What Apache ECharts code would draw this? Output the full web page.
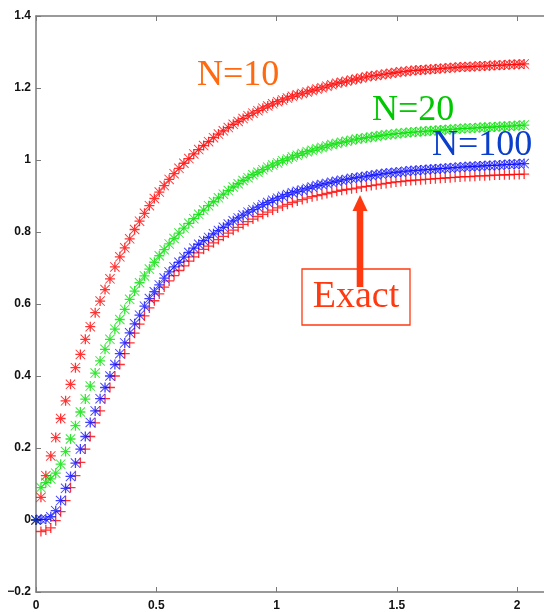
<!DOCTYPE html>
<html>
<head>
<meta charset="utf-8">
<script src="https://cdn.jsdelivr.net/npm/echarts@6/dist/echarts.min.js"></script>
<style>html,body{margin:0;padding:0;background:#fff;}#c{width:544px;height:612px;}</style>
</head>
<body>
<div id="c"></div>
<script>
// time grid (x)
const xs = [0,0.0205,0.041,0.0615,0.082,0.1025,0.123,0.1435,0.164,0.1845,
0.205,0.2255,0.246,0.2665,0.287,0.3075,0.328,0.3485,0.369,0.3895,
0.41,0.4305,0.451,0.4715,0.492,0.5125,0.533,0.5535,0.574,0.5945,
0.615,0.6355,0.656,0.6765,0.697,0.7175,0.738,0.7585,0.779,0.7995,
0.82,0.8405,0.861,0.8815,0.902,0.9225,0.943,0.9635,0.984,1.0045,
1.025,1.0455,1.066,1.0865,1.107,1.1275,1.148,1.1685,1.189,1.2095,
1.23,1.2505,1.271,1.2915,1.312,1.3325,1.353,1.3735,1.394,1.4145,
1.435,1.4555,1.476,1.4965,1.517,1.5375,1.558,1.5785,1.599,1.6195,
1.64,1.6605,1.681,1.7015,1.722,1.7425,1.763,1.7835,1.804,1.8245,
1.845,1.8655,1.886,1.9065,1.927,1.9475,1.968,1.9885,2.009,2.0295];

const n10 = [0,0.063,0.123,0.178,0.229,0.282,0.331,0.377,0.423,0.460,
0.502,0.537,0.576,0.608,0.640,0.670,0.703,0.731,0.756,0.781,
0.807,0.830,0.852,0.873,0.893,0.911,0.929,0.946,0.962,0.977,
0.991,1.004,1.017,1.029,1.040,1.051,1.062,1.072,1.081,1.090,
1.099,1.107,1.115,1.123,1.130,1.137,1.144,1.150,1.156,1.162,
1.167,1.172,1.177,1.181,1.185,1.189,1.193,1.197,1.201,1.205,
1.209,1.213,1.216,1.219,1.222,1.225,1.228,1.231,1.233,1.235,
1.237,1.239,1.241,1.243,1.245,1.246,1.248,1.249,1.250,1.251,
1.252,1.253,1.254,1.255,1.256,1.257,1.258,1.259,1.259,1.260,
1.261,1.261,1.262,1.263,1.263,1.264,1.265,1.265,1.266,1.267];

const n20 = [0,0.090,0.104,0.114,0.130,0.155,0.190,0.225,0.262,0.300,
0.336,0.372,0.408,0.442,0.474,0.502,0.530,0.557,0.585,0.613,
0.636,0.659,0.678,0.697,0.716,0.734,0.751,0.767,0.782,0.797,
0.811,0.824,0.837,0.849,0.861,0.873,0.884,0.895,0.905,0.915,
0.925,0.934,0.943,0.951,0.959,0.966,0.973,0.980,0.986,0.992,
0.998,1.003,1.008,1.013,1.018,1.023,1.027,1.031,1.035,1.039,
1.043,1.046,1.049,1.052,1.055,1.058,1.060,1.062,1.064,1.066,
1.068,1.070,1.071,1.073,1.074,1.076,1.077,1.078,1.079,1.080,
1.081,1.082,1.083,1.084,1.085,1.086,1.087,1.088,1.088,1.089,
1.090,1.091,1.091,1.092,1.093,1.094,1.094,1.095,1.096,1.097];

const n100 = [0,0.002,0.002,0.009,0.026,0.054,0.088,0.121,0.158,0.197,
0.232,0.271,0.303,0.337,0.368,0.400,0.432,0.462,0.492,0.520,
0.545,0.569,0.594,0.615,0.634,0.653,0.672,0.689,0.703,0.716,
0.730,0.743,0.755,0.766,0.776,0.785,0.795,0.804,0.813,0.822,
0.831,0.839,0.847,0.855,0.862,0.869,0.876,0.882,0.888,0.894,
0.899,0.904,0.909,0.913,0.917,0.921,0.925,0.929,0.932,0.935,
0.938,0.941,0.944,0.946,0.949,0.951,0.953,0.955,0.957,0.959,
0.961,0.963,0.964,0.966,0.967,0.969,0.970,0.971,0.972,0.973,
0.974,0.975,0.976,0.977,0.978,0.979,0.980,0.981,0.982,0.982,
0.983,0.984,0.985,0.985,0.986,0.987,0.988,0.988,0.989,0.990];

const exact = [0,-0.032,-0.028,-0.022,-0.002,0.023,0.054,0.090,0.123,0.160,
0.197,0.232,0.270,0.303,0.337,0.368,0.400,0.432,0.462,0.492,
0.519,0.544,0.567,0.589,0.609,0.628,0.647,0.664,0.679,0.693,
0.706,0.719,0.731,0.742,0.752,0.761,0.770,0.779,0.788,0.797,
0.805,0.813,0.821,0.829,0.836,0.843,0.849,0.855,0.861,0.867,
0.872,0.877,0.882,0.886,0.890,0.894,0.898,0.901,0.904,0.907,
0.910,0.913,0.916,0.918,0.920,0.922,0.925,0.927,0.929,0.931,
0.933,0.935,0.937,0.939,0.940,0.942,0.943,0.944,0.945,0.946,
0.947,0.948,0.949,0.950,0.951,0.952,0.953,0.954,0.954,0.955,
0.956,0.956,0.957,0.958,0.958,0.959,0.959,0.960,0.960,0.961];

const labels = ['N=10','N=20','N=100','Exact'];
const xTicks = [0,0.5,1,1.5,2];
const yTicks = [-0.2,0,0.2,0.4,0.6,0.8,1,1.2,1.4];

const PLUS = 'path://M0,4.35H10V5.65H0Z M4.35,0H5.65V10H4.35Z';
const STAR = 'path://M0,4.35H10V5.65H0Z M4.35,0H5.65V10H4.35Z M0.65,0L10,9.35L9.35,10L0,0.65Z M9.35,0L10,0.65L0.65,10L0,9.35Z';

function pairs(ys){ return ys.map((y,i)=>[xs[i], y]); }

const axisColor = '#7a7a7a';
const labelStyle = {color:'#111', fontFamily:'Liberation Sans, Arial, sans-serif', fontSize:12, fontWeight:'bold'};

const chart = echarts.init(document.getElementById('c'), null, {renderer:'canvas'});
chart.setOption({
  animation:false,
  backgroundColor:'#fff',
  grid:{left:36, right:0, top:16, bottom:19, containLabel:false},
  xAxis:[{
    type:'value', min:0, max:2.112, interval:0.5, position:'bottom',
    axisLine:{show:true, onZero:false, lineStyle:{color:axisColor, width:1.5}},
    axisTick:{show:true, inside:true, length:5, lineStyle:{color:axisColor}},
    splitLine:{show:false},
    axisLabel:{...labelStyle, margin:8, showMaxLabel:false,
      formatter:v=>{const k=Math.round(v/0.5)*0.5; return Math.abs(v-k)<1e-6 && xTicks.includes(k) ? String(k) : '';}}
  },{
    type:'value', min:0, max:2.112, interval:0.5, position:'top',
    axisLine:{show:true, onZero:false, lineStyle:{color:axisColor, width:1.5}},
    axisTick:{show:true, inside:true, length:5, lineStyle:{color:axisColor}},
    splitLine:{show:false}, axisLabel:{show:false}
  }],
  yAxis:{
    type:'value', min:-0.2, max:1.4, interval:0.2,
    axisLine:{show:true, onZero:false, lineStyle:{color:axisColor, width:1.5}},
    axisTick:{show:true, inside:true, length:5, lineStyle:{color:axisColor}},
    splitLine:{show:false},
    axisLabel:{...labelStyle, margin:5,
      formatter:v=>{const r=Number(v.toFixed(2)); return r<0 ? '\u2212'+Math.abs(r) : String(r);}}
  },
  series:[
    {name:labels[3], type:'scatter', data:pairs(exact), symbol:PLUS, symbolSize:10,
      itemStyle:{color:'#ff0000', opacity:0.8}, z:2},
    {name:labels[0], type:'scatter', data:pairs(n10), symbol:STAR, symbolSize:10,
      itemStyle:{color:'#ff0000', opacity:0.8}, z:3},
    {name:labels[1], type:'scatter', data:pairs(n20), symbol:STAR, symbolSize:10,
      itemStyle:{color:'#00e000', opacity:0.8}, z:3},
    {name:labels[2], type:'scatter', data:pairs(n100), symbol:STAR, symbolSize:10,
      itemStyle:{color:'#0000ff', opacity:0.75}, z:4}
  ],
  graphic:[
    {type:'text', x:197, y:76, z:10, style:{text:labels[0], font:'36px "Liberation Serif", "Times New Roman", serif', fill:'#ff6a10', textVerticalAlign:'middle'}},
    {type:'text', x:372, y:111, z:10, style:{text:labels[1], font:'36px "Liberation Serif", "Times New Roman", serif', fill:'#00c800', textVerticalAlign:'middle'}},
    {type:'text', x:432, y:146, z:10, style:{text:labels[2], font:'36px "Liberation Serif", "Times New Roman", serif', fill:'#0a3fcc', textVerticalAlign:'middle'}},
    {type:'rect', z:10, shape:{x:302, y:269, width:108, height:56}, style:{fill:'#fff', stroke:'#ff3a10', lineWidth:1.3}},
    {type:'text', x:356, y:297, z:11, style:{text:labels[3], font:'38px "Liberation Serif", "Times New Roman", serif', fill:'#ff3a10', textAlign:'center', textVerticalAlign:'middle'}},
    {type:'rect', z:12, shape:{x:356.7, y:208, width:6.6, height:79}, style:{fill:'#ff3a10'}},
    {type:'polygon', z:12, shape:{points:[[360,195],[367.5,211],[352.5,211]]}, style:{fill:'#ff3a10'}}
  ]
});
</script>
</body>
</html>
